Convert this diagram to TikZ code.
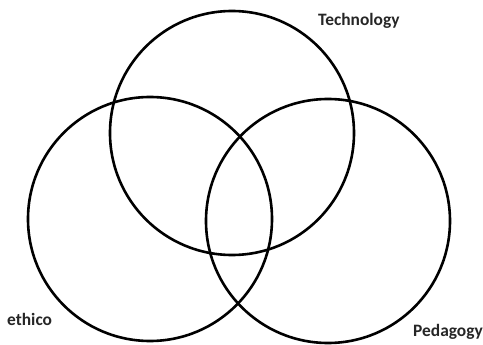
\documentclass[tikz,border=0pt]{standalone}
\usepackage{fontspec}
\setmainfont{Carlito}
\begin{document}
\begin{tikzpicture}[x=1pt,y=-1pt,
  ring/.style={draw=black,line width=2.6pt},
  lbl/.style={font=\fontsize{17.4}{20}\selectfont\bfseries,text=black!85,inner sep=0pt,anchor=base west}]
\useasboundingbox (0,0) rectangle (483,345);
\draw[ring] (232,133) circle[radius=122];
\draw[ring] (150,219) circle[radius=122];
\draw[ring] (328,221) circle[radius=122];
\node[lbl] (tech) at (318,26) {Technology};
\node[lbl] (eth) at (7,325) {ethico};
\node[lbl] (ped) at (413,337) {Pedagogy};
\end{tikzpicture}
\end{document}
